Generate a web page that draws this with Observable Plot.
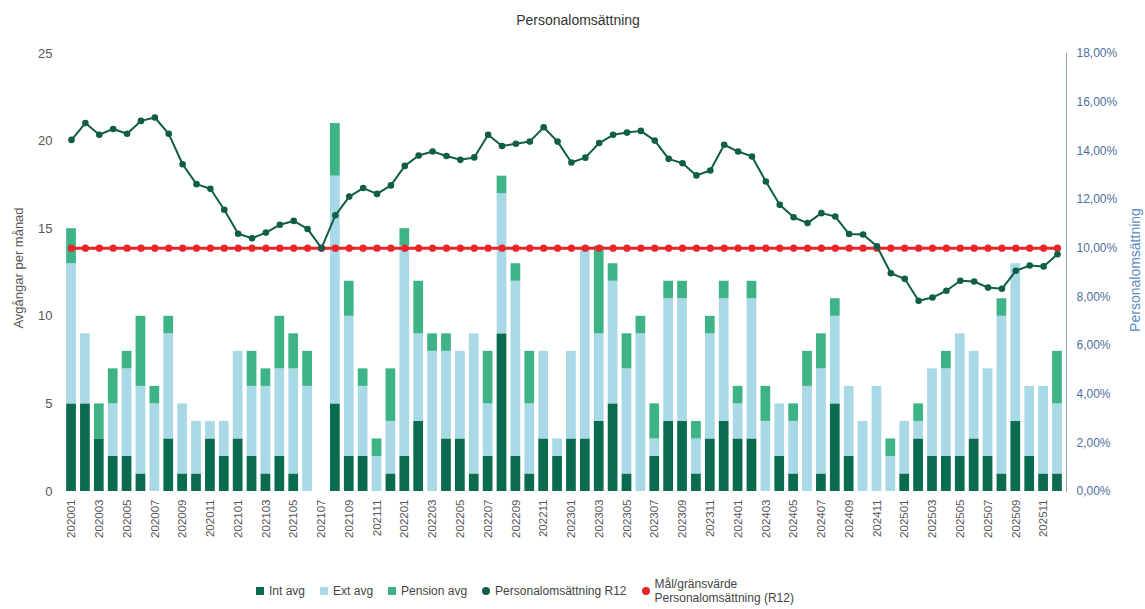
<!DOCTYPE html>
<html><head><meta charset="utf-8">
<script src="https://cdn.jsdelivr.net/npm/d3@7"></script>
<script src="https://cdn.jsdelivr.net/npm/@observablehq/plot@0.6"></script>
<style>
body{margin:0;background:#fff;font-family:"Liberation Sans",Arial,sans-serif;}
#wrap{position:relative;width:1145px;height:609px;overflow:hidden;background:#fff;}
#title{position:absolute;top:12px;left:578px;transform:translateX(-50%);font-size:14px;color:#333;white-space:nowrap;}
#chart{position:absolute;top:40px;left:0;}
.ytitle{position:absolute;white-space:nowrap;transform:translate(-50%,-50%) rotate(-90deg);}
#ylab{left:18px;top:268px;font-size:13px;color:#555;}
#ylab2{left:1135px;top:270px;font-size:14px;color:#5b8cc4;}
#legend{position:absolute;top:577px;left:256px;display:flex;align-items:center;gap:15px;font-size:12px;color:#444;}
#legend .it{display:flex;align-items:center;gap:5px;}
#legend .sq{width:8px;height:8px;display:inline-block;}
#legend .ci{width:8px;height:8px;border-radius:50%;display:inline-block;}
#legend .two{line-height:14px;}
</style></head>
<body>
<div id="wrap">
  <div id="title">Personalomsättning</div>
  <div id="chart"></div>
  <div class="ytitle" id="ylab">Avgångar per månad</div>
  <div class="ytitle" id="ylab2">Personalomsättning</div>
  <div id="legend"></div>
</div>
<script>
const months = [
 "202001","202002","202003","202004","202005","202006","202007","202008","202009","202010","202011","202012",
 "202101","202102","202103","202104","202105","202106","202107","202108","202109","202110","202111","202112",
 "202201","202202","202203","202204","202205","202206","202207","202208","202209","202210","202211","202212",
 "202301","202302","202303","202304","202305","202306","202307","202308","202309","202310","202311","202312",
 "202401","202402","202403","202404","202405","202406","202407","202408","202409","202410","202411","202412",
 "202501","202502","202503","202504","202505","202506","202507","202508","202509","202510","202511","202512"];
const intAvg = [
 5,5,3,2,2,1,0,3,1,1,3,2,
 3,2,1,2,1,0,0,5,2,2,0,1,
 2,4,0,3,3,1,2,9,2,1,3,2,
 3,3,4,5,1,0,2,4,4,1,3,4,
 3,3,0,2,1,0,1,5,2,0,0,0,
 1,3,2,2,2,3,2,1,4,2,1,1];
const extAvg = [
 8,4,0,3,5,5,5,6,4,3,1,2,
 5,4,5,5,6,6,0,13,8,4,2,3,
 12,5,8,5,5,8,3,8,10,4,5,1,
 5,11,5,7,6,9,1,7,7,2,6,7,
 2,8,4,3,3,6,6,5,4,4,6,2,
 3,1,5,5,7,5,5,9,9,4,5,4];
const pensionAvg = [
 2,0,2,2,1,4,1,1,0,0,0,0,
 0,2,1,3,2,2,0,3,2,1,1,3,
 1,3,1,1,0,0,3,1,1,3,0,0,
 0,0,5,1,2,1,2,1,1,1,1,1,
 1,1,2,0,1,2,2,1,0,0,0,1,
 0,1,0,1,0,0,0,1,0,0,0,3];
const r12 = [
 14.45,15.14,14.66,14.90,14.70,15.23,15.37,14.70,13.45,12.63,12.44,11.58,
 10.59,10.41,10.64,10.96,11.12,10.79,10.00,11.35,12.12,12.47,12.23,12.58,
 13.38,13.81,13.97,13.79,13.63,13.73,14.66,14.20,14.29,14.38,14.97,14.38,
 13.52,13.72,14.32,14.66,14.75,14.82,14.42,13.67,13.49,12.99,13.19,14.25,
 13.97,13.77,12.74,11.78,11.27,11.03,11.44,11.30,10.58,10.56,10.08,8.97,
 8.74,7.84,7.97,8.25,8.66,8.63,8.38,8.33,9.07,9.29,9.25,9.75];
const target = 10;
const seriesNames = ["Int avg","Ext avg","Pension avg"];
const seriesColors = ["#0b6b4e","#a9d8e6","#3db386"];
const lineName = "Personalomsättning R12";
const targetName = "Mål/gränsvärde Personalomsättning (R12)";
const lineColor = "#0f5e45";
const targetColor = "#e8262a";
const leftTicks = [0,5,10,15,20,25];
const pctTicks = [0,2,4,6,8,10,12,14,16,18];
const yMax = 25, pctMax = 18;
const toY = p => p * yMax / pctMax;

const bars = [];
months.forEach((m,i)=>{
  bars.push({month:m, series:"Int avg", value:intAvg[i]});
  bars.push({month:m, series:"Ext avg", value:extAvg[i]});
  bars.push({month:m, series:"Pension avg", value:pensionAvg[i]});
});
const rows = months.map((m,i)=>({month:m, r12:r12[i], target}));

const chart = Plot.plot({
  width:1145, height:520, marginTop:13, marginBottom:69, marginLeft:62, marginRight:79,
  style:{fontFamily:'"Liberation Sans",Arial,sans-serif', fontSize:"11px", background:"white", overflow:"visible"},
  x:{type:"band", domain:months, padding:0.3},
  y:{domain:[0,yMax]},
  color:{domain:seriesNames, range:seriesColors},
  marks:[
    Plot.barY(bars,{x:"month", y:"value", fill:"series", order:seriesNames}),
    Plot.axisY(leftTicks,{anchor:"left", tickSize:0, tickPadding:10, fontSize:13, fill:"#555", label:null}),
    Plot.axisY(pctTicks.map(toY),{anchor:"right", tickSize:0, tickPadding:10, fontSize:12, fill:"#4d6f9c",
      tickFormat:d=>(d*pctMax/yMax).toFixed(2).replace(".",",")+"%", label:null}),
    Plot.axisX(months.filter((d,i)=>i%2===0),{anchor:"bottom", tickSize:0, tickPadding:8, tickRotate:-90, fontSize:11.5, fill:"#555", label:null}),
    Plot.frame({anchor:"right", stroke:"#8fa7c2"}),
    Plot.line(rows,{x:"month", y:d=>toY(d.target), stroke:targetColor, strokeWidth:3}),
    Plot.dot(rows,{x:"month", y:d=>toY(d.target), fill:targetColor, r:3.6}),
    Plot.line(rows,{x:"month", y:d=>toY(d.r12), stroke:lineColor, strokeWidth:2}),
    Plot.dot(rows,{x:"month", y:d=>toY(d.r12), fill:lineColor, r:3.3})
  ]
});
document.getElementById("chart").appendChild(chart);

const leg = document.getElementById("legend");
seriesNames.forEach((n,i)=>{
  const it=document.createElement("div"); it.className="it";
  it.innerHTML=`<span class="sq" style="background:${seriesColors[i]}"></span><span>${n}</span>`;
  leg.appendChild(it);
});
[[lineName,lineColor],[targetName,targetColor]].forEach(([n,c],i)=>{
  const it=document.createElement("div"); it.className="it";
  const label = i===1 ? `<span class="two">Mål/gränsvärde<br>Personalomsättning (R12)</span>` : `<span>${n}</span>`;
  it.innerHTML=`<span class="ci" style="background:${c}"></span>${label}`;
  leg.appendChild(it);
});
</script>
</body></html>
